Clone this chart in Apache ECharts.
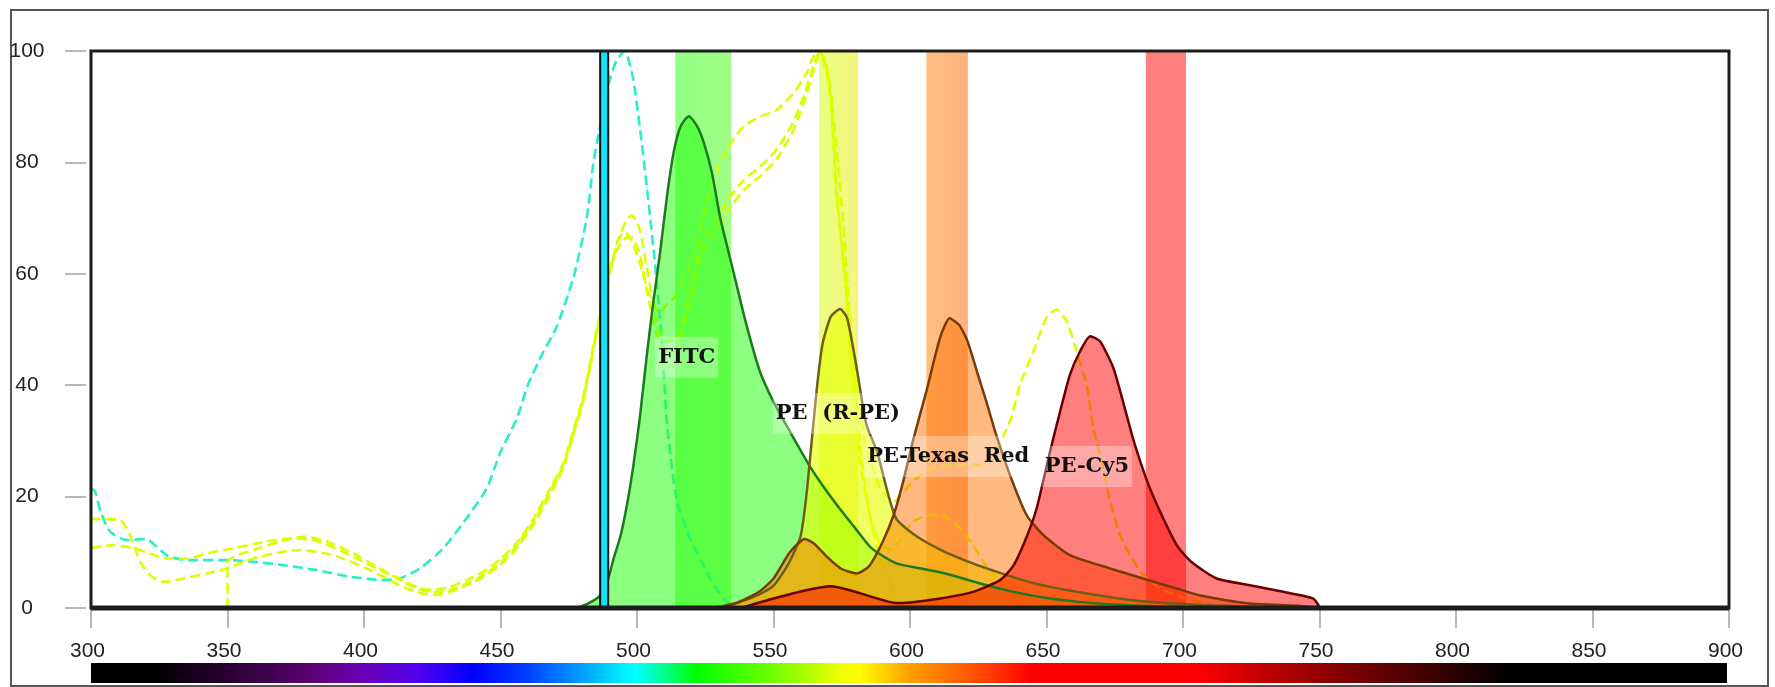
<!DOCTYPE html>
<html>
<head>
<meta charset="utf-8">
<title>Spectra viewer</title>
<script src="https://cdn.jsdelivr.net/npm/echarts/dist/echarts.min.js"></script>
<style>
html, body { margin: 0; padding: 0; background: #fff; }
#chart { width: 1775px; height: 687px; }
</style>
</head>
<body>
<div id="chart"></div>
<script>
// emission spectra (nm / relative intensity)
var fitcEmNm = [478, 482, 486, 489.4, 491.5, 494, 496.5, 498.5, 501, 503.5, 506, 508.5, 511, 513.5, 516, 519, 522, 524.5, 527.5, 530.5, 535, 540, 545, 550, 556, 563, 568, 574, 580, 586, 595, 605, 613, 625, 638, 650, 662, 680, 700, 720]
var fitcEmVal = [0, 0.8, 2, 5.2, 9, 13, 19, 25, 34, 45, 55, 64, 74, 82, 86.5, 88.3, 86.5, 83.5, 78, 70, 61, 51, 42.5, 37, 31.7, 25.7, 22, 18, 14.3, 10.7, 8, 7, 6.2, 4.5, 2.9, 1.8, 1.1, 0.5, 0.2, 0]

var peEmNm = [528, 537, 545, 550, 555, 558, 560, 562, 564, 566, 568, 571, 574.4, 577, 580.5, 584, 588, 591.4, 595, 602, 611, 623, 633, 645, 660, 680, 700, 720, 740]
var peEmVal = [0, 1, 2.5, 4, 7.5, 10.5, 13, 20, 30, 40, 47.5, 52.3, 53.7, 52, 43, 33, 28, 21.5, 16, 13, 10.5, 8, 6.3, 4.5, 3, 1.5, 0.7, 0.3, 0]

var trEmNm = [530, 537, 545, 550, 556, 561.5, 565, 570, 575, 580.5, 585, 590, 594, 597.5, 601, 606, 611, 614.5, 618, 621, 624.5, 628, 631, 636.6, 642.7, 648.8, 658.6, 673.3, 685.3, 697.7, 706, 724.5, 742, 750]
var trEmVal = [0, 1, 3, 5.3, 10, 12.4, 11.5, 9, 7, 6.2, 7.5, 11.9, 16.7, 22.7, 29.9, 38.9, 48.5, 52, 50.8, 48, 42.5, 37, 32, 23.9, 16.7, 13.1, 9.5, 7.1, 5.3, 3.5, 2.3, 0.8, 0.4, 0]

var cy5EmNm = [538, 550, 562, 571, 578, 586, 595, 600, 611, 623, 633, 638, 643, 646.4, 651.3, 655, 658.6, 662.3, 666, 669.6, 674.5, 678, 682, 686.7, 691.6, 697.7, 703, 712.3, 724.5, 736.7, 747.7, 749.6, 750]
var cy5EmVal = [0, 1.7, 3.2, 3.9, 3.2, 2, 0.9, 1, 1.7, 2.9, 5, 7.7, 13.1, 17.9, 28.1, 35.3, 41.9, 46.1, 48.8, 47.9, 43.1, 37.1, 29.9, 23, 17.3, 11.3, 8.3, 5.3, 4.1, 2.9, 1.7, 0.5, 0]

// excitation spectra (dashed)
var fitcExNm = [300, 301.5, 303.5, 307, 313, 320, 327.7, 335, 350, 359.4, 370.4, 382.7, 395, 407, 413, 420.5, 429, 437.6, 445, 450, 456, 460, 465.7, 470.6, 476.7, 481.6, 484, 486.2, 490, 492.6, 495.5, 498.6, 501, 503.5, 506, 507.8, 509.6, 511, 514.5, 519.4, 525.5, 529, 532.8, 536]
var fitcExVal = [21.5, 20.9, 17.3, 13.7, 12.2, 12.4, 9.5, 8.6, 8.6, 8.3, 7.7, 6.8, 5.6, 5, 5.3, 7.1, 10.7, 16.1, 21.5, 28, 34, 40, 46, 50.5, 59.3, 70, 79.8, 85.8, 94.8, 98.4, 100, 95, 86.5, 76, 64.7, 55.7, 44, 33, 19.5, 12.5, 6.5, 3.5, 1.1, 0]

var peExNm = [300, 310.6, 314.3, 318, 321.6, 326.5, 333.8, 342.4, 349.7, 359.4, 370.4, 376.6, 388.8, 401, 413, 419, 425.4, 431.5, 437.6, 443.7, 449.8, 455.9, 462, 468.1, 473, 476.7, 480.3, 482.8, 485.2, 488, 490, 493, 496, 498, 501, 504, 507, 510, 514, 518, 521, 524, 528, 533, 539, 545, 551, 557, 561, 565, 567, 569.5, 571, 572, 573, 574.4, 575.6, 576.8, 578, 579.2, 580.5, 581.7, 584, 586.6, 589, 592.7, 595, 598, 605]
var peExVal = [16, 15.8, 13.1, 8.3, 5.9, 4.7, 5.3, 6.2, 7.1, 8.9, 10.1, 10.4, 9.5, 7.1, 4.1, 2.9, 2.3, 2.9, 4.1, 5.6, 7.7, 10.7, 14.9, 20.3, 25.1, 31.1, 37.1, 43.1, 49.1, 55, 60, 66, 69.5, 70.5, 68, 60, 52, 48, 48, 54, 60, 66, 69, 73, 76.8, 79.2, 82.2, 87, 91.8, 97.8, 100, 97, 92, 83, 74, 68, 62, 55.7, 47, 39, 32, 26, 19.7, 13.7, 8.9, 4.7, 1.7, 0.3, 0]

var trExNm = [300, 308, 316, 323, 328, 335, 345, 352, 364, 374, 383, 395, 407, 413, 419, 425, 431.5, 437.6, 443.7, 449.8, 456, 462, 468, 473, 476.7, 480.3, 482.8, 485.2, 488, 490, 493, 496, 498, 501, 504, 507, 510, 514, 518, 521, 524, 528, 533, 539, 545, 551, 557, 561, 565, 567, 569.5, 571, 572.5, 574, 576, 578, 580, 582, 584, 586, 589, 593, 597, 601, 606, 611, 618, 623, 628, 633, 638, 644, 650, 660]
var trExVal = [10.8, 11.3, 10.7, 9.5, 8.9, 8.9, 10.1, 10.7, 11.9, 12.5, 12, 9.5, 6.5, 5.3, 3.8, 3.2, 3.8, 5, 6.5, 8.7, 11.7, 16, 21.3, 26, 32, 38, 44, 50, 56, 61, 64.5, 66.5, 66.5, 63.5, 56, 49.5, 46.5, 46, 52, 58, 64, 67, 71, 75, 77.5, 80.5, 85.5, 90.5, 97, 99.5, 96, 91, 80, 70, 60, 49, 38, 28, 20, 15, 11.5, 10.5, 12.5, 15.5, 16.5, 16.8, 14.5, 11.3, 7.5, 4.5, 2.5, 1, 0.3, 0]

var cy5ExNm = [350, 350, 360, 372, 378, 386, 396, 407, 415, 420, 426, 432, 438, 444, 450, 456, 462, 468, 473, 476.7, 480.3, 482.8, 485.2, 488, 490, 493, 495.5, 498, 501, 504, 508, 511, 514, 520.6, 526.7, 532.8, 538.9, 545, 551.1, 557.3, 562.1, 564.6, 567, 570, 572, 574, 576, 578, 580.5, 584, 589, 594, 601, 608, 617, 626, 632, 637, 640.3, 645.2, 650, 653.7, 657.4, 661, 664.7, 667.2, 670.8, 673.3, 676.9, 680.6, 685.5, 691.6, 697.7, 706.2, 715, 725, 775]
var cy5ExVal = [0, 8.3, 10.5, 12.3, 12.8, 12, 9.8, 6.8, 4.5, 3.4, 2.8, 3.3, 4.5, 6, 8.2, 11.2, 15.5, 20.8, 25.6, 31.5, 37.5, 43.5, 49.5, 55, 60, 66, 67.5, 66, 62, 57, 53, 54.5, 56, 62.9, 75, 82.2, 86.4, 88.2, 89.4, 92.4, 96, 99, 100, 96, 88, 78, 66, 52, 39, 29, 21.5, 19.1, 22.7, 25.1, 25.7, 25.7, 28.7, 34.1, 40.1, 46.1, 52.1, 53.6, 51.5, 46.1, 40.1, 32.3, 25.1, 19.1, 13.1, 9.5, 5.9, 3.5, 2.3, 1.1, 0.3, 0, 0]

// filter bands and laser line (nm)
var bandLo = [514, 566.7, 606, 686.4]
var bandHi = [534.5, 581, 621.2, 701.1]
var laserNm = [486.5, 489.45]

// dye labels
var labelText = ['FITC', 'PE  (R-PE)', 'PE-Texas  Red', 'PE-Cy5']
var labelNm = [518.2, 573.6, 614, 664.8]
var labelVal = [45.0, 34.9, 27.2, 25.4]

// colour bar under the axis
var barNm = [300, 322, 350, 380, 400, 420, 440, 460, 480, 495, 500, 510, 522, 550, 575, 582, 600, 620, 645, 705, 730, 760, 790, 820, 900]
var barColor = ['#000000', '#000000', '#2a0030', '#5a0070', '#6a00b8', '#5200f0', '#0000ff', '#0040ff', '#00a0ff', '#00eeff', '#00ffff', '#00ff90', '#00ff00', '#70ff00', '#eeff00', '#ffff00', '#ffa000', '#ff6000', '#ff0000', '#ff0000', '#c00000', '#800000', '#400000', '#000000', '#000000']

var GRID = { left: 91, right: 46, top: 51, bottom: 79 }
var plotW = 1775 - GRID.left - GRID.right
var plotH = 687 - GRID.top - GRID.bottom

function pairs (xs, ys) {
  return xs.map(function (x, i) { return [x, ys[i]] })
}

function hgrad (c1, c2) {
  return { type: 'linear', x: 0, y: 0, x2: 1, y2: 0, colorStops: [{ offset: 0, color: c1 }, { offset: 1, color: c2 }] }
}

var bandFill = [
  hgrad('rgba(25,255,0,0.48)', 'rgba(55,255,0,0.48)'),
  hgrad('rgba(210,255,0,0.5)', 'rgba(235,235,0,0.5)'),
  hgrad('rgba(255,130,0,0.5)', 'rgba(255,100,0,0.5)'),
  hgrad('rgba(255,0,0,0.5)', 'rgba(255,0,0,0.5)')
]

function excitation (name, xs, ys, color) {
  return {
    name: name,
    type: 'line',
    z: 2,
    symbol: 'none',
    smooth: 0.2,
    silent: true,
    lineStyle: { color: color, width: 2.6, type: [10, 5] },
    data: pairs(xs, ys)
  }
}

function emission (name, xs, ys, line, fill) {
  return {
    name: name,
    type: 'line',
    z: 3,
    symbol: 'none',
    smooth: 0.2,
    silent: true,
    lineStyle: { color: line, width: 2.5 },
    areaStyle: { color: fill, opacity: 1 },
    data: pairs(xs, ys)
  }
}

var stops = barNm.map(function (nm, i) {
  return { offset: (nm - 300) / 600, color: barColor[i] }
})

var chart = echarts.init(document.getElementById('chart'))

var option = {
  animation: false,
  backgroundColor: '#fff',
  grid: { left: GRID.left, right: GRID.right, top: GRID.top, bottom: GRID.bottom, show: false },
  xAxis: {
    type: 'value',
    min: 300,
    max: 900,
    interval: 50,
    axisLine: { show: false },
    axisTick: { show: true, length: 20, lineStyle: { color: '#b8b8b8', width: 2 } },
    axisLabel: {
      margin: 33,
      fontSize: 21,
      fontFamily: 'Liberation Sans',
      color: '#222',
      showMinLabel: true,
      showMaxLabel: true,
      padding: [0, 7, 0, 0]
    },
    splitLine: { show: false }
  },
  yAxis: {
    type: 'value',
    min: 0,
    max: 100,
    interval: 20,
    offset: 5,
    axisLine: { show: false },
    axisTick: { show: true, length: 21, lineStyle: { color: '#b8b8b8', width: 2 } },
    axisLabel: {
      margin: 59,
      align: 'center',
      fontSize: 21,
      fontFamily: 'Liberation Sans',
      color: '#222',
      padding: [4, 0, 0, 0]
    },
    splitLine: { show: false }
  },
  graphic: [
    { type: 'rect', z: 0, silent: true, shape: { x: 11, y: 10, width: 1757, height: 676 }, style: { fill: 'none', stroke: '#555', lineWidth: 2 } },
    { type: 'rect', z: 50, silent: true, shape: { x: GRID.left, y: GRID.top, width: plotW, height: plotH }, style: { fill: 'none', stroke: '#1c1c1c', lineWidth: 3 } },
    { type: 'line', z: 50, silent: true, shape: { x1: GRID.left, y1: GRID.top + plotH, x2: GRID.left + plotW, y2: GRID.top + plotH }, style: { stroke: '#1c1c1c', lineWidth: 5 } },
    { type: 'rect', z: 1, silent: true, shape: { x: GRID.left, y: 663, width: plotW - 2, height: 20 }, style: { fill: new echarts.graphic.LinearGradient(0, 0, 1, 0, stops) } }
  ],
  series: [
    {
      name: 'bands',
      type: 'line',
      data: [],
      silent: true,
      markArea: {
        silent: true,
        z: 1,
        data: bandLo.map(function (lo, i) {
          return [{ xAxis: lo, yAxis: 0, itemStyle: { color: bandFill[i] } }, { xAxis: bandHi[i], yAxis: 100 }]
        })
      }
    },
    excitation('FITC excitation', fitcExNm, fitcExVal, '#2aefc4'),
    excitation('PE excitation', peExNm, peExVal, '#dcff00'),
    excitation('PE-Texas Red excitation', trExNm, trExVal, '#dcff00'),
    excitation('PE-Cy5 excitation', cy5ExNm, cy5ExVal, '#dcff00'),
    emission('FITC', fitcEmNm, fitcEmVal, '#1e7a1e', 'rgba(34,255,11,0.52)'),
    emission('PE (R-PE)', peEmNm, peEmVal, '#6f5f14', 'rgba(230,255,0,0.62)'),
    emission('PE-Texas Red', trEmNm, trEmVal, '#7a3a08', 'rgba(255,113,0,0.5)'),
    emission('PE-Cy5', cy5EmNm, cy5EmVal, '#6a0000', 'rgba(255,0,0,0.5)'),
    {
      name: 'laser',
      type: 'line',
      data: [],
      silent: true,
      markArea: {
        silent: true,
        z: 10,
        itemStyle: { color: '#12e2fa', borderColor: '#111', borderWidth: 2 },
        data: [[{ xAxis: laserNm[0], yAxis: 0 }, { xAxis: laserNm[1], yAxis: 100 }]]
      }
    },
    {
      name: 'labels',
      type: 'line',
      data: [],
      silent: true,
      markPoint: {
        z: 20,
        silent: true,
        symbol: 'rect',
        symbolSize: 1,
        itemStyle: { color: 'rgba(0,0,0,0)' },
        label: {
          show: true,
          position: 'inside',
          formatter: '{b}',
          fontFamily: 'DejaVu Serif',
          fontWeight: 'bold',
          fontSize: 21,
          lineHeight: 22,
          color: '#111',
          backgroundColor: 'rgba(255,255,255,0.32)',
          padding: [14, 3, 5, 3]
        },
        data: labelText.map(function (t, i) {
          return { name: t, coord: [labelNm[i], labelVal[i]] }
        })
      }
    }
  ]
}

chart.setOption(option)
</script>
</body>
</html>
